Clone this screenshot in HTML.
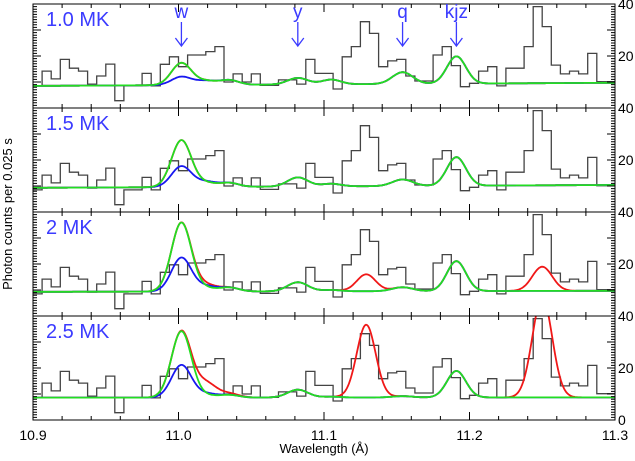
<!DOCTYPE html>
<html><head><meta charset="utf-8">
<style>
html,body{margin:0;padding:0;background:#fff;}
svg{display:block;font-family:"Liberation Sans",sans-serif;}
</style></head>
<body>
<svg id="chart" width="635" height="461" viewBox="0 0 635 461" xmlns="http://www.w3.org/2000/svg">
<g id="panels"></g>
<text x="0" y="0" transform="translate(12,214) rotate(-90)" text-anchor="middle" font-size="13" fill="#000">Photon counts per 0.025 s</text>
<text x="324" y="453" text-anchor="middle" font-size="13" fill="#000">Wavelength (Å)</text>
</svg>
<script>
// ---- data ----
const xMin = 10.9, xMax = 11.3;
const binStart = 10.9, binWidth = 0.00625;
const counts = [8.5,14.2,11.2,18.7,15.3,14.2,9.2,12.3,16.9,2.8,8.5,8.5,13.3,8.5,16.8,19.7,15.9,20.4,20.4,21.7,23.6,10,13.1,10,13.1,8.7,8.7,10.8,10.8,9.2,18.7,13.3,13.3,7.3,19.7,23.6,33.2,28.7,15.9,18.1,18.7,12.3,10.4,10.4,20.4,23.6,16.3,8.2,9.5,14.2,15.9,8.5,15.3,15.3,23.6,39,31.3,16.5,13.1,14.2,13.1,21,10.1,10.1];
const panelLabels = ["1.0 MK","1.5 MK","2 MK","2.5 MK"];
const xTickLabels = ["10.9","11.0","11.1","11.2","11.3"];
const yTickValues = [20,40];
const lineCenters = [11.002,11.019,11.035,11.082,11.105,11.129,11.154,11.191,11.250];
const lineSigmas  = [0.0068,0.007,0.0065,0.007,0.0065,0.0065,0.007,0.0065,0.0068];
const baseLeft  = [8.5,9.3,9.3,8.6];
const baseRight = [9.7,10.4,9.7,8.7];
const greenAmps = [
  [8.5,1.5,1.8,2.5,1.8,0,4.5,10.5,0],
  [18,1.5,1.5,3.5,1,0,2.5,11,0],
  [26.5,1.2,1.5,3.5,0.5,0,1.5,11.5,0],
  [25.5,0.8,1.0,3,0.3,0,0.5,10.2,0]];
const blueAmps = [
  [3.2,1.6,1.8,2.5,1.8,0,4.5,10.5,0],
  [8,2,1.5,3.5,1,0,2.5,11,0],
  [13,2,1.5,3.5,0.5,0,1.5,11.5,0],
  [12.5,1.5,1.0,3,0.3,0,0.5,10.2,0]];
const redAmps = [
  [8.5,1.5,1.8,2.5,1.8,0,4.5,10.5,0],
  [18,1.5,1.5,3.5,1,0,2.5,11,0],
  [26.5,2.5,1.5,3.5,0.5,6.5,1.5,11.5,9.3],
  [25.5,5.5,1.5,3,0.3,28,0.5,10.2,38.5]];
const lineMarks = ["w","y","q","kjz"];
const lineMarkPos = [11.002,11.082,11.154,11.191];

// ---- layout ----
const L=33, R=615, panelTop=[4,108,212,316], panelH=104, yScale=2.6;
const NS="http://www.w3.org/2000/svg";
const xs = v => L + (v-xMin)/(xMax-xMin)*(R-L);
const ys = (p,v) => panelTop[p]+panelH - v*yScale;
const root=document.getElementById('panels');
function mk(tag,attrs){const e=document.createElementNS(NS,tag);for(const k in attrs)e.setAttribute(k,attrs[k]);return e;}
function model(p,amps,x){
  let v=baseLeft[p]+(baseRight[p]-baseLeft[p])*(x-xMin)/(xMax-xMin);
  for(let i=0;i<lineCenters.length;i++){const d=(x-lineCenters[i])/lineSigmas[i];v+=amps[i]*Math.exp(-0.5*d*d);}
  return v;
}
for(let p=0;p<4;p++){
  const g=mk('g',{});
  
  
  root.appendChild(g);
  const clipId='clip'+p;
  const cp=mk('clipPath',{id:clipId});cp.appendChild(mk('rect',{x:L,y:panelTop[p],width:R-L,height:panelH}));g.appendChild(cp);
  let d='';
  for(let i=0;i<counts.length;i++){
    const x0=xs(binStart+i*binWidth),x1=xs(binStart+(i+1)*binWidth),y=ys(p,counts[i]);
    d+=(i===0?'M':'L')+x0.toFixed(1)+','+y.toFixed(1)+'L'+x1.toFixed(1)+','+y.toFixed(1);
  }
  const h=mk('path',{d:d,fill:'none',stroke:'#444','stroke-width':1.3,'clip-path':'url(#'+clipId+')'});
  
  
  g.appendChild(h);
  const curves=[['red-model',redAmps[p],'#f01818'],['blue-model',blueAmps[p],'#1818f0'],['green-model',greenAmps[p],'#22dd22']];
  for(const [nm,amps,col] of curves){
    let cd='';
    for(let px=L;px<=R;px+=1){const x=xMin+(px-L)/(R-L)*(xMax-xMin);cd+=(px===L?'M':'L')+px+','+ys(p,model(p,amps,x)).toFixed(1);}
    const c=mk('path',{d:cd,fill:'none',stroke:col,'stroke-width':1.8,'clip-path':'url(#'+clipId+')'});
    
    
    g.appendChild(c);
  }
  const fr=mk('rect',{x:L,y:panelTop[p],width:R-L,height:panelH,fill:'none',stroke:'#000','stroke-width':1});
  
  
  g.appendChild(fr);
  let td='';
  for(let v=0;v<=41;v++){
    const y=ys(p,v);if(y<panelTop[p])continue;
    const len=v%10===0?8:4;
    td+='M'+R+','+y+'h-'+len+'M'+L+','+y+'h'+len;
  }
  for(let k=0;k<=20;k++){
    const x=xs(xMin+k*0.02),len=k%5===0?8:4;
    td+='M'+x+','+(panelTop[p]+panelH)+'v-'+len+'M'+x+','+panelTop[p]+'v'+len;
  }
  const tk=mk('path',{d:td,stroke:'#000','stroke-width':1,fill:'none'});
  
  
  g.appendChild(tk);
  const yl=(p===3)?[0].concat(yTickValues):yTickValues;
  for(const v of yl){
    const t=mk('text',{x:R+3,y:ys(p,v)+5,'font-size':14,fill:'#000'});
    t.textContent=v;
    
    
    g.appendChild(t);
  }
  const lab=mk('text',{x:L+13,y:panelTop[p]+22,'font-size':20,fill:'#3b3bff'});
  lab.textContent=panelLabels[p];
  
  
  g.appendChild(lab);
}
for(let i=0;i<lineMarks.length;i++){
  const x=xs(lineMarkPos[i]);
  const t=mk('text',{x:x,y:18,'text-anchor':'middle','font-size':19,fill:'#3b3bff'});
  t.textContent=lineMarks[i];
  
  
  root.appendChild(t);
  const a=mk('path',{d:'M'+x+',22V46M'+(x-6)+',38L'+x+',46L'+(x+6)+',38',stroke:'#3b3bff','stroke-width':1.3,fill:'none'});
  
  
  root.appendChild(a);
}
for(let i=0;i<xTickLabels.length;i++){
  const t=mk('text',{x:xs(xMin+i*0.1),y:440,'text-anchor':'middle','font-size':14,fill:'#000'});
  t.textContent=xTickLabels[i];
  
  
  root.appendChild(t);
}
</script>
</body></html>
